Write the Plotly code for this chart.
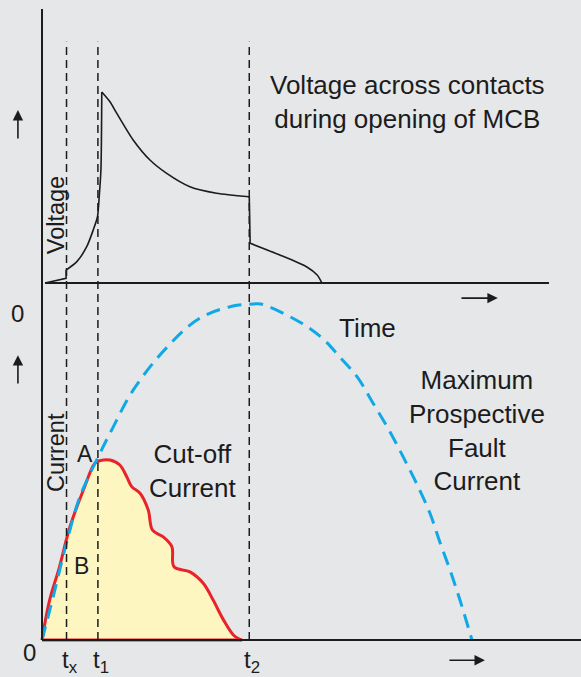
import plotly.graph_objects as go

# time in ms (one half cycle of prospective current = 10 ms), current and voltage in p.u.
prospective_t = [0, 0.26, 0.57, 0.88, 1.31, 1.62, 2.12, 2.91, 3.67, 4.44, 4.91, 5.09, 6.0, 6.53,
                 6.93, 7.33, 7.70, 8.07, 8.40, 8.71, 9.02, 9.26, 9.49, 9.72, 10.0]
prospective_i = [0, 0.129, 0.289, 0.426, 0.546, 0.625, 0.744, 0.872, 0.958, 0.994, 1.0, 1.0, 0.946, 0.897,
                 0.842, 0.783, 0.705, 0.625, 0.545, 0.466, 0.378, 0.289, 0.208, 0.119, 0]

cutoff_t = [0, 0.17, 0.40, 0.65, 0.96, 1.23, 1.35, 1.58, 1.81, 1.97, 2.09, 2.28, 2.47, 2.57, 2.82,
            3.02, 3.07, 3.44, 3.75, 3.98, 4.22, 4.45, 4.60, 4.65]
cutoff_i = [0, 0.115, 0.215, 0.337, 0.446, 0.526, 0.534, 0.536, 0.521, 0.486, 0.456, 0.437, 0.387, 0.327, 0.307,
            0.278, 0.218, 0.203, 0.169, 0.119, 0.060, 0.015, 0.002, 0]

# voltage across contacts, split at the sharp corners
arc_start_t = [0.07, 0.56, 0.56]
arc_start_v = [0, 0.025, 0.068]
rise_t = [0.56, 0.81, 1.04, 1.19, 1.29, 1.33, 1.37, 1.39]
rise_v = [0.068, 0.112, 0.190, 0.277, 0.347, 0.452, 0.592, 1.0]
decay_t = [1.39, 1.58, 1.74, 2.12, 2.51, 2.90, 3.44, 4.06, 4.82]
decay_v = [1.0, 0.949, 0.888, 0.749, 0.644, 0.574, 0.504, 0.470, 0.452]
drop_t = [4.82, 4.84]
drop_v = [0.452, 0.208]
tail_t = [4.84, 5.53, 6.16, 6.40, 6.51]
tail_v = [0.208, 0.147, 0.084, 0.042, 0]

mark_times = [0.57, 1.30, 4.82]
mark_labels = ["t<sub>x</sub>", "t<sub>1</sub>", "t<sub>2</sub>"]

BG = "#e6e7e9"
INK = "#1c1c1c"
RED = "#e8232a"
BLUE = "#11a8e6"
FONT = "Liberation Sans, Arial, sans-serif"

fig = go.Figure()

fig.add_trace(
    go.Scatter(
        x=cutoff_t,
        y=cutoff_i,
        mode="lines",
        fill="tozeroy",
        fillcolor="#fdf6c1",
        line={"color": RED, "width": 3, "shape": "spline", "smoothing": 1.0},
    )
)
fig.add_trace(
    go.Scatter(
        x=[cutoff_t[0], cutoff_t[-1]],
        y=[0, 0],
        mode="lines",
        line={"color": RED, "width": 3},
    )
)
fig.add_trace(
    go.Scatter(
        x=prospective_t,
        y=prospective_i,
        mode="lines",
        line={"color": BLUE, "width": 3, "dash": "14px,8px", "shape": "spline"},
    )
)

for seg_t, seg_v, shape in [
    (arc_start_t, arc_start_v, "linear"),
    (rise_t, rise_v, "spline"),
    (decay_t, decay_v, "spline"),
    (drop_t, drop_v, "linear"),
    (tail_t, tail_v, "spline"),
]:
    fig.add_trace(
        go.Scatter(
            x=seg_t,
            y=seg_v,
            yaxis="y2",
            mode="lines",
            line={"color": INK, "width": 1.6, "shape": shape, "smoothing": 0.7},
        )
    )

shapes = []
for t in mark_times:
    shapes.append(
        {"type": "line", "xref": "x", "yref": "y", "x0": t, "x1": t, "y0": 0, "y1": 1.781,
         "line": {"color": INK, "width": 1.5, "dash": "8px,5px"}}
    )
# axes
shapes.append({"type": "line", "xref": "x", "yref": "y", "x0": 0, "x1": 0, "y0": 0, "y1": 1.878,
               "line": {"color": INK, "width": 2}})
shapes.append({"type": "line", "xref": "x", "yref": "y2", "x0": 0.07, "x1": 11.79, "y0": 0, "y1": 0,
               "line": {"color": INK, "width": 2}})
shapes.append({"type": "line", "xref": "x", "yref": "y", "x0": 0, "x1": 12.6, "y0": 0, "y1": 0,
               "line": {"color": INK, "width": 2}})

annotations = []


def text(x, y, s, yref="y", size=26, angle=0):
    annotations.append(
        {"x": x, "y": y, "xref": "x", "yref": yref, "text": s, "showarrow": False,
         "font": {"family": FONT, "size": size, "color": INK}, "textangle": angle,
         "xanchor": "center", "yanchor": "middle"}
    )


def arrow(x, y, ax, ay, yref="y"):
    annotations.append(
        {"x": x, "y": y, "ax": ax, "ay": ay, "xref": "x", "yref": yref, "axref": "x", "ayref": yref,
         "text": "", "showarrow": True, "arrowhead": 2, "arrowsize": 1.3, "arrowwidth": 1.6,
         "arrowcolor": INK}
    )


text(8.49, 0.948, "Voltage across contacts<br>during opening of MCB", yref="y2")
text(0.33, 0.356, "Voltage", yref="y2", size=23.5, angle=-90)
text(0.31, 0.558, "Current", size=23.5, angle=-90)
text(7.58, 0.929, "Time")
text(10.12, 0.625, "Maximum<br>Prospective<br>Fault<br>Current")
text(3.49, 0.503, "Cut-off<br>Current")
text(1.0, 0.554, "A", size=23)
text(0.92, 0.220, "B", size=23)
text(-0.56, 0.973, "0", size=24)
text(-0.30, -0.036, "0", size=24)
for t, lab in zip(mark_times, mark_labels):
    text(t + 0.07, -0.064, lab, size=24)

arrow(-0.56, 0.906, -0.56, 0.749, yref="y2")
arrow(-0.56, 0.848, -0.56, 0.759)
arrow(10.60, -0.079, 9.72, -0.079, yref="y2")
arrow(10.30, -0.060, 9.44, -0.060)

fig.update_layout(
    width=581,
    height=677,
    margin={"l": 0, "r": 0, "t": 0, "b": 0},
    paper_bgcolor=BG,
    plot_bgcolor=BG,
    showlegend=False,
    xaxis={"range": [-0.977, 12.535], "visible": False},
    yaxis={"range": [-0.110, 1.905], "visible": False},
    yaxis2={"range": [-2.063, 1.482], "visible": False, "overlaying": "y"},
    shapes=shapes,
    annotations=annotations,
)

fig.write_html(
    "out.html",
    config={"displayModeBar": False},
    post_script="document.body.style.margin='0';",
)
